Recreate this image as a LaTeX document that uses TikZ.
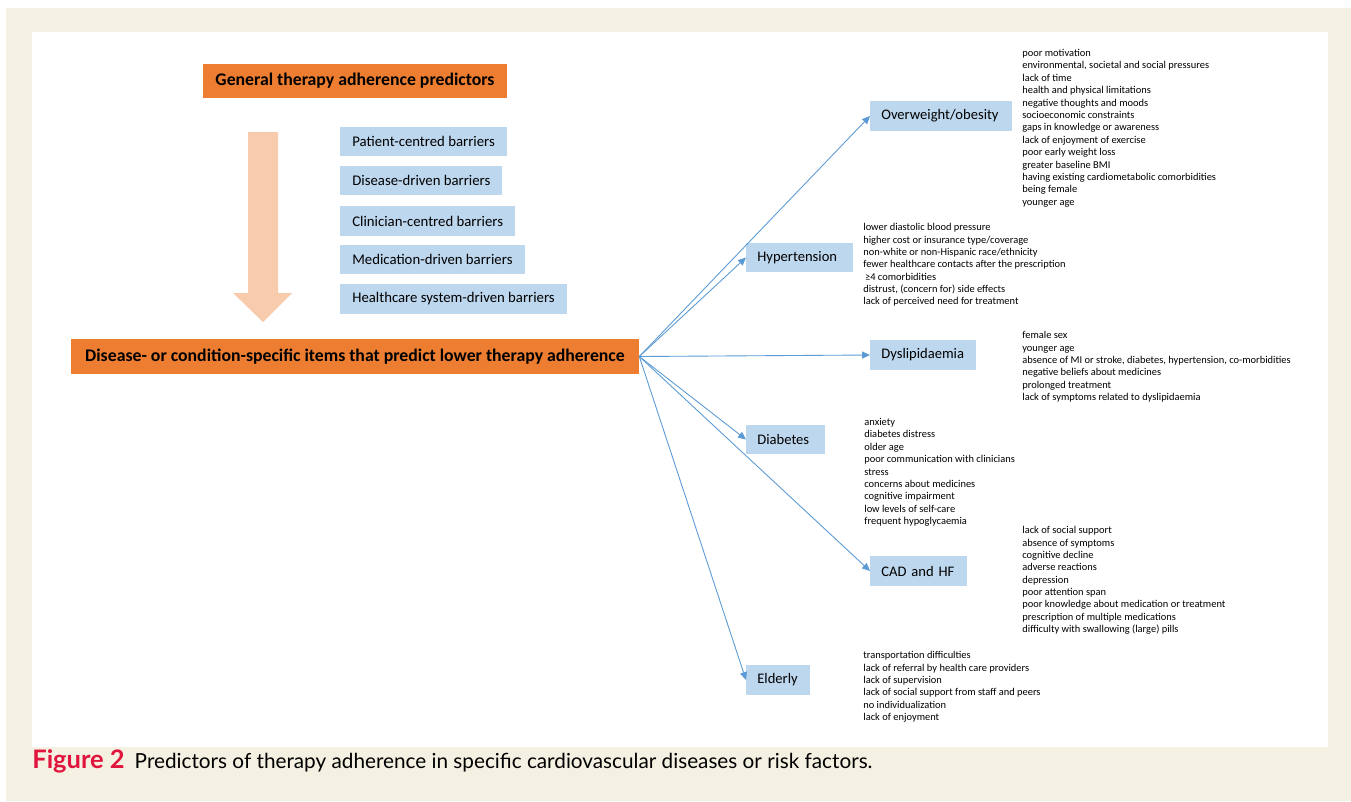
\documentclass[tikz,border=0pt]{standalone}
\usepackage{fontspec}
\setmainfont{Carlito}
\newfontfamily\capfont{Lato}
\usetikzlibrary{positioning}
\usetikzlibrary{arrows.meta}
\usepackage{xcolor}

\definecolor{frameBeige}{HTML}{F4F0E2}
\definecolor{boxOrange}{HTML}{ED7D31}
\definecolor{boxBlue}{HTML}{BDD7EE}
\definecolor{arrowPeach}{HTML}{F8CBAD}
\definecolor{linkBlue}{HTML}{5B9BD5}
\definecolor{capRed}{HTML}{E0143C}

\tikzset{
  orangebox/.style={fill=boxOrange, inner sep=0pt, minimum height=0.69cm,
    font=\fontsize{10.1}{12}\selectfont\bfseries},
  barrierbox/.style={fill=boxBlue, anchor=west, inner xsep=0.24cm, minimum height=0.59cm,
    font=\fontsize{8.4}{10}\selectfont},
  groupbox/.style={fill=boxBlue, anchor=west, inner xsep=0.22cm, minimum height=0.59cm,
    align=left, text width=#1, font=\fontsize{8.3}{10}\selectfont},
  itemlist/.style={anchor=north west, align=left, inner sep=0pt,
    font=\fontsize{5.95}{7.05}\selectfont},
  link/.style={linkBlue, line width=0.5pt, -{Triangle[length=4.5pt,width=4pt]}}
}

\begin{document}
\begin{tikzpicture}[x=0.02cm,y=-0.02cm]
\useasboundingbox (0,0) rectangle (1351,801);
\begin{scope}

%%%%%%%%%% Frame %%%%%%%%
{
\fill[frameBeige] (6,8) rectangle (1351,801);
\fill[white] (32,32) rectangle (1328,747);
}

%%%%%%%%%% General predictors %%%%%%%%
{
\node[orangebox, minimum width=6.08cm] (general) at (355,81) {General therapy adherence predictors};

\fill[arrowPeach] (248,132)--(278,132)--(278,293)--(292,293)--(263,322)--(233,293)--(248,293)--cycle;

\node[barrierbox] (patient) at (340,141.5) {Patient-centred barriers};
\node[barrierbox] (diseasedriven) at (340,180.5) {Disease-driven barriers};
\node[barrierbox] (clinician) at (340,221) {Clinician-centred barriers};
\node[barrierbox] (medication) at (340,259.5) {Medication-driven barriers};
\node[barrierbox] (healthcare) at (340,299) {Healthcare system-driven barriers};
}

%%%%%%%%%% Disease-specific items %%%%%%%%
{
\node[orangebox, minimum width=11.36cm] (specific) at (355,356.5) {Disease- or condition-specific items that predict lower therapy adherence};
\coordinate (hub) at (specific.east);
}

%%%%%%%%%% Groups %%%%%%%%
{
\node[groupbox=2.40cm] (obesity) at (870,116) {Overweight/obesity};
\node[groupbox=1.70cm] (hypertension) at (746,257.5) {Hypertension};
\node[groupbox=1.68cm] (dyslipid) at (870,355) {Dyslipidaemia};
\node[groupbox=1.14cm] (diabetes) at (746,439.5) {Diabetes};
\node[groupbox=1.50cm] (cadhf) at (870,571) {CAD and HF};
\node[groupbox=0.84cm] (elderly) at (746,680) {Elderly};
}

\foreach \target in {obesity,hypertension,dyslipid,diabetes,cadhf,elderly}
  \draw[link] (hub) -- (\target.west);

%%%%%%%%%% Item lists %%%%%%%%
{
\node[itemlist] (obesitylist) at (1022,49) {poor motivation\\ environmental, societal and social pressures\\ lack of time\\ health and physical limitations\\ negative thoughts and moods\\ socioeconomic constraints\\ gaps in knowledge or awareness\\ lack of enjoyment of exercise\\ poor early weight loss\\ greater baseline BMI\\ having existing cardiometabolic comorbidities\\ being female\\ younger age};

\node[itemlist] (hypertensionlist) at (863,223) {lower diastolic blood pressure\\ higher cost or insurance type/coverage\\ non-white or non-Hispanic race/ethnicity\\ fewer healthcare contacts after the prescription\\ \,≥4 comorbidities\\ distrust, (concern for) side effects\\ lack of perceived need for treatment};

\node[itemlist] (dyslipidlist) at (1022,331) {female sex\\ younger age\\ absence of MI or stroke, diabetes, hypertension, co-morbidities\\ negative beliefs about medicines\\ prolonged treatment\\ lack of symptoms related to dyslipidaemia};

\node[itemlist] (diabeteslist) at (864,418) {anxiety\\ diabetes distress\\ older age\\ poor communication with clinicians\\ stress\\ concerns about medicines\\ cognitive impairment\\ low levels of self-care\\ frequent hypoglycaemia};

\node[itemlist] (cadhflist) at (1022,526) {lack of social support\\ absence of symptoms\\ cognitive decline\\ adverse reactions\\ depression\\ poor attention span\\ poor knowledge about medication or treatment\\ prescription of multiple medications\\ difficulty with swallowing (large) pills};

\node[itemlist] (elderlylist) at (863,651) {transportation difficulties\\ lack of referral by health care providers\\ lack of supervision\\ lack of social support from staff and peers\\ no individualization\\ lack of enjoyment};
}

%%%%%%%%%% Caption %%%%%%%%
{
\node[anchor=base west, inner sep=0pt] (caption) at (32,768) {\capfont\textcolor{capRed}{\fontsize{14.5}{16}\selectfont\bfseries Figure 2}\hspace{0.2cm}\fontsize{11.8}{14}\selectfont Predictors of therapy adherence in specific cardiovascular diseases or risk factors.};
}

\end{scope}
\end{tikzpicture}
\end{document}
